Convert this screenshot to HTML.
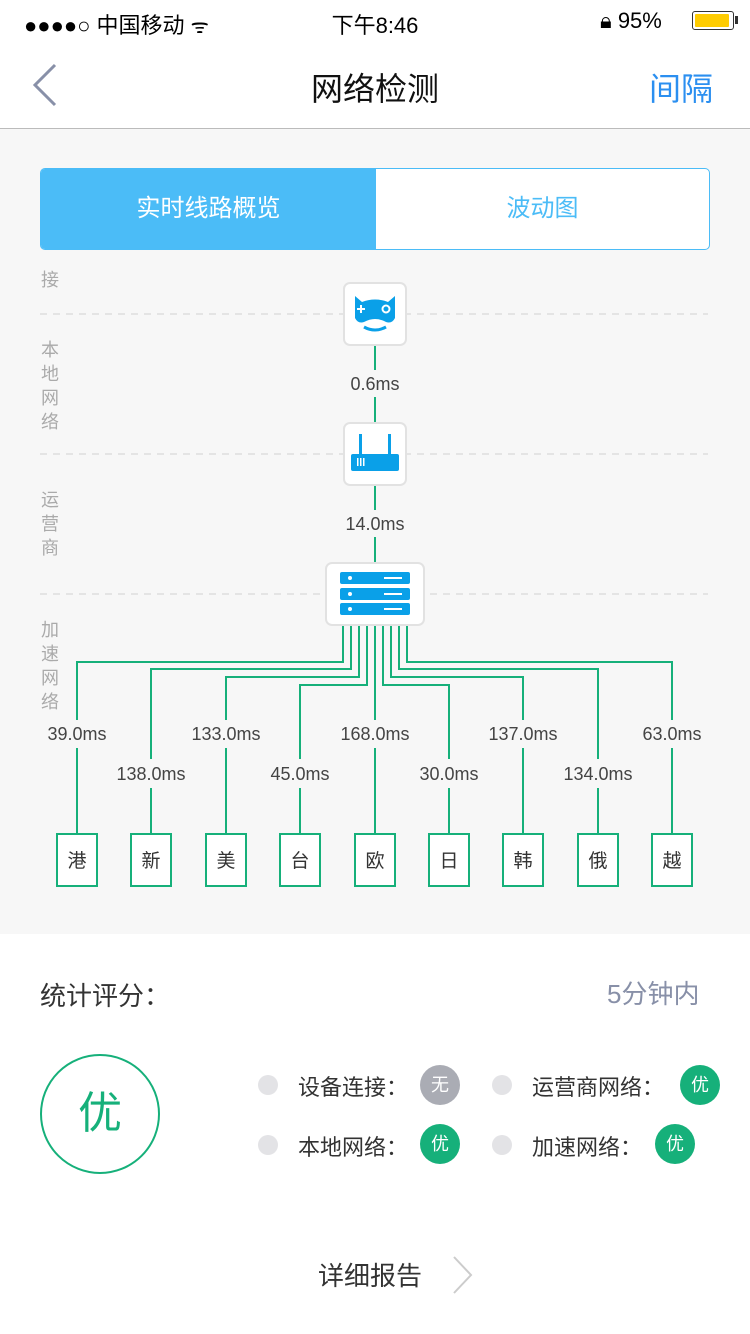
<!DOCTYPE html>
<html><head><meta charset="utf-8"><style>
body{margin:0;width:750px;height:1334px;position:relative;background:#fff;font-family:"Liberation Sans","Noto Sans CJK SC",sans-serif;overflow:hidden}
.a{position:absolute}
</style></head><body>
<div class="a" style="left:24px;top:8px;font-size:22px;color:#000">●●●●○ 中国移动 <span style="font-size:20px">ᯤ</span></div>
<div class="a" style="left:0;width:750px;top:8px;text-align:center;font-size:22px;color:#000">下午8:46</div>
<div class="a" style="left:600px;top:8px;font-size:22px;color:#000">🔒︎ 95%</div>
<div class="a" style="left:692px;top:11px;width:40px;height:17px;border:1px solid #333;border-radius:3px"><div style="margin:2px;width:34px;height:13px;background:#fc0;border-radius:1px"></div></div>
<div class="a" style="left:735px;top:16px;width:3px;height:8px;background:#333"></div>
<svg class="a" style="left:30px;top:62px" width="30" height="46"><polyline points="25,3 5,23 25,43" fill="none" stroke="#8890a8" stroke-width="3"/></svg>
<div class="a" style="left:0;width:750px;top:64px;text-align:center;font-size:32px;color:#111">网络检测</div>
<div class="a" style="left:649px;top:64px;font-size:32px;color:#2b8ff0">间隔</div>
<div class="a" style="left:0;top:128px;width:750px;height:1px;background:#bbb"></div>
<div class="a" style="left:0;top:129px;width:750px;height:805px;background:#f7f7f7"></div>
<div class="a" style="left:40px;top:168px;width:668px;height:80px;border:1px solid #4bbcf7;border-radius:5px;background:#fff;overflow:hidden">
<div style="position:absolute;left:0;top:0;width:335px;height:80px;background:#4bbcf7;color:#fff;font-size:24px;line-height:80px;text-align:center">实时线路概览</div>
<div style="position:absolute;left:335px;top:0;width:333px;height:80px;color:#4bbcf7;font-size:24px;line-height:80px;text-align:center">波动图</div></div>
<div class="a" style="left:41px;top:268px;font-size:18px;line-height:24px;color:#aaa;width:20px">接</div>
<div class="a" style="left:41px;top:338px;font-size:18px;line-height:24px;color:#aaa;width:20px">本地网络</div>
<div class="a" style="left:41px;top:488px;font-size:18px;line-height:24px;color:#aaa;width:20px">运营商</div>
<div class="a" style="left:41px;top:618px;font-size:18px;line-height:24px;color:#aaa;width:20px">加速网络</div>
<svg class="a" style="left:0;top:0" width="750" height="934" font-family="Liberation Sans,sans-serif">
<g stroke="#ddd" stroke-width="1.5" stroke-dasharray="7,6"><line x1="40" y1="314" x2="708" y2="314"/><line x1="40" y1="454" x2="708" y2="454"/><line x1="40" y1="594" x2="708" y2="594"/></g>
<g stroke="#16b07a" stroke-width="2" fill="none">
<line x1="375" y1="345" x2="375" y2="370"/><line x1="375" y1="397" x2="375" y2="423"/>
<line x1="375" y1="485" x2="375" y2="510"/><line x1="375" y1="537" x2="375" y2="563"/>
<polyline points="343,625 343,662 77,662 77,720"/><line x1="77" y1="748" x2="77" y2="834"/>
<polyline points="351,625 351,669 151,669 151,759"/><line x1="151" y1="788" x2="151" y2="834"/>
<polyline points="359,625 359,677 226,677 226,720"/><line x1="226" y1="748" x2="226" y2="834"/>
<polyline points="367,625 367,685 300,685 300,759"/><line x1="300" y1="788" x2="300" y2="834"/>
<line x1="375" y1="625" x2="375" y2="720"/><line x1="375" y1="748" x2="375" y2="834"/>
<polyline points="383,625 383,685 449,685 449,759"/><line x1="449" y1="788" x2="449" y2="834"/>
<polyline points="391,625 391,677 523,677 523,720"/><line x1="523" y1="748" x2="523" y2="834"/>
<polyline points="399,625 399,669 598,669 598,759"/><line x1="598" y1="788" x2="598" y2="834"/>
<polyline points="407,625 407,662 672,662 672,720"/><line x1="672" y1="748" x2="672" y2="834"/>
</g>
<g font-size="18" fill="#444" text-anchor="middle">
<text x="375" y="390">0.6ms</text><text x="375" y="530">14.0ms</text>
<text x="77" y="740">39.0ms</text><text x="226" y="740">133.0ms</text><text x="375" y="740">168.0ms</text><text x="523" y="740">137.0ms</text><text x="672" y="740">63.0ms</text>
<text x="151" y="780">138.0ms</text><text x="300" y="780">45.0ms</text><text x="449" y="780">30.0ms</text><text x="598" y="780">134.0ms</text>
</g>
<g fill="#fff" stroke="#e2e2e2" stroke-width="2">
<rect x="344" y="283" width="62" height="62" rx="6"/><rect x="344" y="423" width="62" height="62" rx="6"/><rect x="326" y="563" width="98" height="62" rx="6"/></g>
<g fill="#0aa0e8">
<path d="M355,296 L362,302 Q375,297 388,302 L395,296 L395,318 Q392,324 386,322 Q375,316 364,322 Q358,324 355,318Z"/>
<path d="M364,327 Q375,333 386,327" stroke="#0aa0e8" stroke-width="3" fill="none"/>
<rect x="360" y="305" width="2" height="8" fill="#fff"/><rect x="357" y="308" width="8" height="2" fill="#fff"/>
<circle cx="386" cy="309" r="3.5" fill="none" stroke="#fff" stroke-width="2"/>
<rect x="359" y="434" width="3" height="20"/><rect x="388" y="434" width="3" height="20"/><rect x="351" y="454" width="48" height="17" rx="2"/>
<rect x="340" y="572" width="70" height="12" rx="2"/><rect x="340" y="588" width="70" height="12" rx="2"/><rect x="340" y="603" width="70" height="12" rx="2"/>
</g>
<g fill="#fff"><rect x="357" y="458" width="1.5" height="8"/><rect x="360" y="458" width="1.5" height="8"/><rect x="363" y="458" width="1.5" height="8"/>
<circle cx="350" cy="578" r="2"/><circle cx="350" cy="594" r="2"/><circle cx="350" cy="609" r="2"/>
<rect x="384" y="577" width="18" height="2"/><rect x="384" y="593" width="18" height="2"/><rect x="384" y="608" width="18" height="2"/></g>
<g fill="#fff" stroke="#16b07a" stroke-width="2">
<rect x="57" y="834" width="40" height="52"/><rect x="131" y="834" width="40" height="52"/><rect x="206" y="834" width="40" height="52"/><rect x="280" y="834" width="40" height="52"/><rect x="355" y="834" width="40" height="52"/><rect x="429" y="834" width="40" height="52"/><rect x="503" y="834" width="40" height="52"/><rect x="578" y="834" width="40" height="52"/><rect x="652" y="834" width="40" height="52"/></g>
<g font-size="19" fill="#333" text-anchor="middle" font-family="Noto Sans CJK SC,sans-serif">
<text x="77" y="867">港</text><text x="151" y="867">新</text><text x="226" y="867">美</text><text x="300" y="867">台</text><text x="375" y="867">欧</text><text x="449" y="867">日</text><text x="523" y="867">韩</text><text x="598" y="867">俄</text><text x="672" y="867">越</text></g>
</svg>
<div class="a" style="left:40px;top:976px;font-size:26px;color:#333">统计评分：</div>
<div class="a" style="left:607px;top:974px;font-size:26px;color:#8890a8">5分钟内</div>
<div class="a" style="left:40px;top:1054px;width:116px;height:116px;border:2px solid #16b07a;border-radius:50%;text-align:center;line-height:116px;font-size:44px;color:#16b07a">优</div>
<div class="a" style="left:258px;top:1075px;width:20px;height:20px;border-radius:50%;background:#e3e3e6"></div>
<div class="a" style="left:258px;top:1135px;width:20px;height:20px;border-radius:50%;background:#e3e3e6"></div>
<div class="a" style="left:492px;top:1075px;width:20px;height:20px;border-radius:50%;background:#e3e3e6"></div>
<div class="a" style="left:492px;top:1135px;width:20px;height:20px;border-radius:50%;background:#e3e3e6"></div>
<div class="a" style="left:298px;top:1070px;font-size:22px;color:#333">设备连接：</div>
<div class="a" style="left:298px;top:1130px;font-size:22px;color:#333">本地网络：</div>
<div class="a" style="left:532px;top:1070px;font-size:22px;color:#333">运营商网络：</div>
<div class="a" style="left:532px;top:1130px;font-size:22px;color:#333">加速网络：</div>
<div class="a" style="left:420px;top:1065px;width:40px;height:40px;border-radius:50%;background:#aaacb4;color:#fff;text-align:center;line-height:40px;font-size:18px">无</div>
<div class="a" style="left:420px;top:1124px;width:40px;height:40px;border-radius:50%;background:#16b07a;color:#fff;text-align:center;line-height:40px;font-size:18px">优</div>
<div class="a" style="left:680px;top:1065px;width:40px;height:40px;border-radius:50%;background:#16b07a;color:#fff;text-align:center;line-height:40px;font-size:18px">优</div>
<div class="a" style="left:655px;top:1124px;width:40px;height:40px;border-radius:50%;background:#16b07a;color:#fff;text-align:center;line-height:40px;font-size:18px">优</div>
<div class="a" style="left:318px;top:1256px;font-size:26px;color:#333">详细报告</div>
<svg class="a" style="left:450px;top:1254px" width="26" height="42"><polyline points="4,3 21,21 4,39" fill="none" stroke="#ccc" stroke-width="2"/></svg>
</body></html>
